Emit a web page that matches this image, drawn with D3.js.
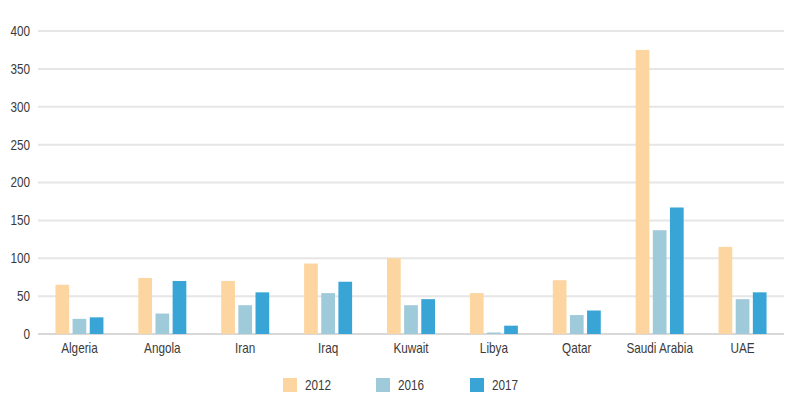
<!DOCTYPE html>
<html>
<head>
<meta charset="utf-8">
<script src="https://cdn.jsdelivr.net/npm/d3@7"></script>
<style>
  html, body { margin: 0; padding: 0; background: #fff; }
  svg { display: block; }
  text { font-family: "Liberation Sans", Arial, sans-serif; fill: #3a3a3a; }
</style>
</head>
<body>
<svg id="chart" width="800" height="415"></svg>
<script>
const categories = ["Algeria", "Angola", "Iran", "Iraq", "Kuwait", "Libya", "Qatar", "Saudi Arabia", "UAE"];
const seriesNames = ["2012", "2016", "2017"];
const values2012 = [65, 74, 70, 93, 100, 54, 71, 375, 115];
const values2016 = [20, 27, 38, 54, 38, 2, 25, 137, 46];
const values2017 = [22, 70, 55, 69, 46, 11, 31, 167, 55];
const yTicks = [0, 50, 100, 150, 200, 250, 300, 350, 400];
const colors = ["#fdd5a0", "#9fcad9", "#38a5d6"];

const seriesValues = [values2012, values2016, values2017];
const data = categories.map((c, i) => ({
  cat: c,
  vals: seriesNames.map((s, j) => ({ key: s, value: seriesValues[j][i] }))
}));

const svg = d3.select("#chart");
const m = { left: 38, right: 16, top: 31, bottom: 81 };
const W = 800, H = 415;
const narrow = 0.84;

const x = d3.scaleBand().domain(categories).range([m.left, W - m.right]).paddingInner(0).paddingOuter(0);
const xs = d3.scaleBand().domain(seriesNames).range([x.bandwidth() / 2 - 24, x.bandwidth() / 2 + 24]).paddingInner(0.2);
const y = d3.scaleLinear().domain([0, 400]).range([H - m.bottom, m.top]);

// gridlines
svg.append("g")
  .selectAll("line")
  .data(yTicks)
  .join("line")
  .attr("x1", m.left).attr("x2", W - m.right)
  .attr("y1", d => y(d)).attr("y2", d => y(d))
  .attr("stroke", d => d === 0 ? "#d8d8d8" : "#e6e6e6")
  .attr("stroke-width", 2);

// y axis labels
const yAxis = d3.axisLeft(y).tickValues(yTicks).tickSize(0).tickPadding(8);
const gy = svg.append("g").attr("transform", `translate(${m.left},0)`).call(yAxis);
gy.select(".domain").remove();
gy.selectAll("text")
  .style("font-size", "14px").attr("fill", "#3a3a3a").style("font-family", null)
  .attr("x", -8 / narrow)
  .attr("transform", `scale(${narrow},1)`);

// bars
const groups = svg.append("g").selectAll("g")
  .data(data).join("g")
  .attr("transform", d => `translate(${x(d.cat)},0)`);
groups.selectAll("rect")
  .data(d => d.vals).join("rect")
  .attr("x", d => xs(d.key))
  .attr("width", xs.bandwidth())
  .attr("y", d => y(d.value))
  .attr("height", d => y(0) - y(d.value))
  .attr("fill", (d, i) => colors[i]);

// x axis labels
const xAxis = d3.axisBottom(x).tickSize(0).tickPadding(9);
const gx = svg.append("g").attr("transform", `translate(0,${y(0)})`).call(xAxis);
gx.select(".domain").remove();
gx.selectAll("text")
  .style("font-size", "14px").attr("fill", "#3a3a3a").style("font-family", null)
  .attr("transform", `scale(${narrow},1)`);

// legend
const legendX = [283, 376, 470];
const legend = svg.append("g").selectAll("g")
  .data(seriesNames).join("g")
  .attr("transform", (d, i) => `translate(${legendX[i]},378)`);
legend.append("rect").attr("width", 14).attr("height", 14).attr("fill", (d, i) => colors[i]);
legend.append("text")
  .attr("x", 22 / narrow).attr("y", 12)
  .attr("transform", `scale(${narrow},1)`)
  .style("font-size", "14px").text(d => d);
</script>
</body>
</html>
